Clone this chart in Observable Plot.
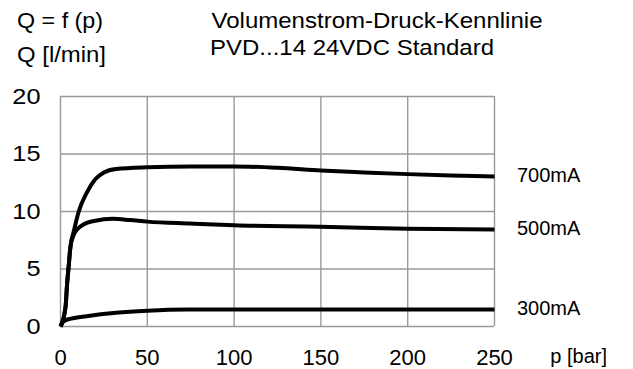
<!DOCTYPE html>
<html>
<head>
<meta charset="utf-8">
<script src="https://cdn.jsdelivr.net/npm/d3@7"></script>
<script src="https://cdn.jsdelivr.net/npm/@observablehq/plot@0.6"></script>
<style>
  html, body { margin: 0; padding: 0; background: #fff; }
  #wrap { position: relative; width: 633px; height: 369px; }
  #wrap svg { position: absolute; left: 0; top: 0; }
</style>
</head>
<body>
<div id="wrap"></div>
<script>
// ---- data ----
const pressure700 = [0, 2.9, 3.8, 4.8, 5.7, 7.7, 10.5, 15, 20, 25, 32, 50, 75, 100, 125, 150, 175, 200, 225, 250];
const flow700     = [0, 1.7, 3.7, 5.4, 6.9, 8.3, 10.0, 11.6, 12.8, 13.4, 13.7, 13.85, 13.92, 13.92, 13.8, 13.57, 13.4, 13.25, 13.12, 13.04];

const pressure500 = [0, 2.9, 3.8, 4.8, 5.7, 7.7, 10, 13, 20, 30, 40, 50, 75, 100, 150, 200, 250];
const flow500     = [0, 1.7, 3.7, 5.4, 6.9, 8.0, 8.5, 8.85, 9.2, 9.36, 9.26, 9.12, 8.95, 8.8, 8.68, 8.5, 8.43];

const pressure300 = [0, 1, 3, 6, 15, 32, 50, 73, 100, 150, 200, 250];
const flow300     = [0, 0.3, 0.55, 0.68, 0.9, 1.2, 1.38, 1.48, 1.48, 1.48, 1.48, 1.48];

const seriesNames = ["700mA", "500mA", "300mA"];
const xTicks = [0, 50, 100, 150, 200, 250];
const yTicks = [0, 5, 10, 15, 20];

const titleLeft = ["Q = f (p)", "Q [l/min]"];
const titleRight = ["Volumenstrom-Druck-Kennlinie", "PVD...14 24VDC Standard"];
const xLabel = "p [bar]";

// ---- build table ----
const rows = [];
[[pressure700, flow700, seriesNames[0]],
 [pressure500, flow500, seriesNames[1]],
 [pressure300, flow300, seriesNames[2]]].forEach(([ps, qs, name]) => {
  ps.forEach((p, i) => rows.push({p, q: qs[i], series: name}));
});

const FONT = "'Liberation Sans', Arial, Helvetica, sans-serif";

const chart = Plot.plot({
  width: 633,
  height: 369,
  marginLeft: 60,
  marginRight: 139,
  marginTop: 96,
  marginBottom: 43,
  style: {fontFamily: FONT, fontSize: "22px", color: "#000", background: "transparent", overflow: "visible"},
  x: {domain: [0, 250], ticks: xTicks, label: null, tickSize: 0, tickPadding: 23},
  y: {domain: [0, 20], ticks: yTicks, label: null, tickSize: 0, tickPadding: 20},
  marks: [
    Plot.gridX(xTicks, {stroke: "#999", strokeOpacity: 1, strokeWidth: 1.4}),
    Plot.gridY(yTicks, {stroke: "#999", strokeOpacity: 1, strokeWidth: 1.4}),
    Plot.line(rows, {x: "p", y: "q", z: "series", stroke: "#000", strokeWidth: 4, curve: "monotone-x", strokeLinejoin: "round", strokeLinecap: "butt"}),
    Plot.text(rows, Plot.selectLast({x: "p", y: "q", z: "series", text: "series", textAnchor: "start", dx: 22.5, dy: -1, fontSize: 20, fill: "#000"}))
  ]
});
document.getElementById("wrap").appendChild(chart);

// slightly wider y tick labels, as in the reference
chart.querySelectorAll('g[aria-label="y-axis tick label"] text').forEach(t => {
  const len = t.getComputedTextLength();
  t.setAttribute("textLength", (len * 1.15).toFixed(2));
  t.setAttribute("lengthAdjust", "spacingAndGlyphs");
});

// overlay titles
const ov = d3.select("#wrap").append("svg")
  .attr("width", 633).attr("height", 369)
  .style("font-family", FONT).style("pointer-events", "none");

const titles = [
  {t: titleLeft[0], x: 17, y: 27.5, size: 22, w: 86},
  {t: titleLeft[1], x: 17, y: 62, size: 22, w: 89},
  {t: titleRight[0], x: 211.5, y: 27.7, size: 22, w: 331},
  {t: titleRight[1], x: 210, y: 55, size: 22, w: 284},
  {t: xLabel, x: 550.3, y: 363, size: 20, w: null}
];
titles.forEach(d => {
  const el = ov.append("text")
    .attr("x", d.x).attr("y", d.y)
    .attr("font-size", d.size).attr("fill", "#000")
    .text(d.t);
  if (d.w) el.attr("textLength", d.w).attr("lengthAdjust", "spacingAndGlyphs");
});
</script>
</body>
</html>
